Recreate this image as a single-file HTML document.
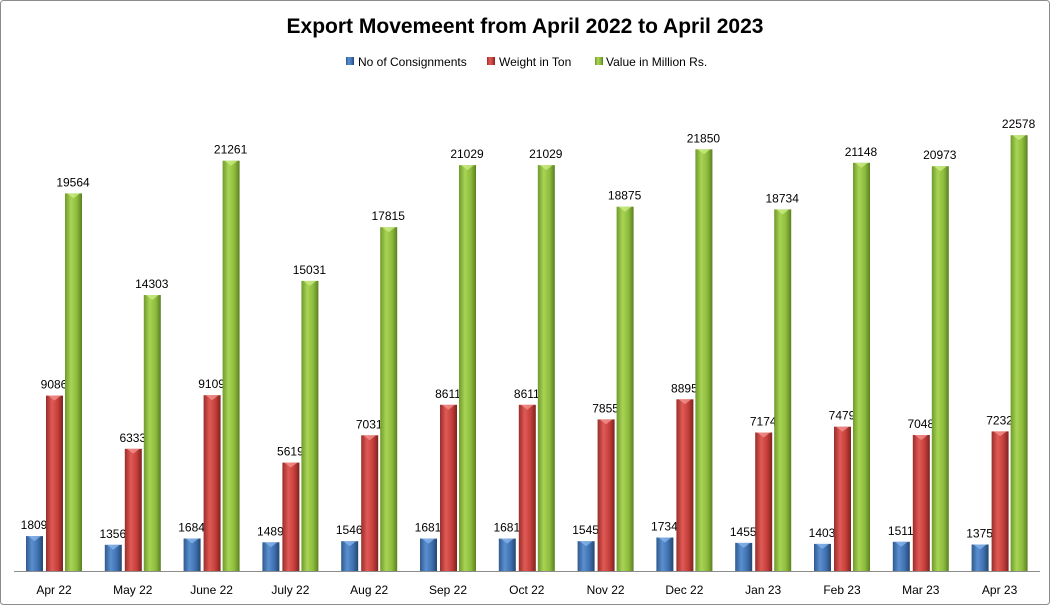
<!DOCTYPE html>
<html><head><meta charset="utf-8"><style>
body{margin:0;background:#fff;}
svg{display:block;font-family:"Liberation Sans",sans-serif;}
</style></head><body>
<svg id="s" width="1050" height="605" viewBox="0 0 1050 605">
<defs>
<linearGradient id="gb" x1="0" x2="1"><stop offset="0" stop-color="#2e5a8e"/><stop offset="0.35" stop-color="#5b8fd0"/><stop offset="0.7" stop-color="#3f71b0"/><stop offset="1" stop-color="#24466f"/></linearGradient>
<linearGradient id="gr" x1="0" x2="1"><stop offset="0" stop-color="#9a2d2a"/><stop offset="0.35" stop-color="#e05a56"/><stop offset="0.7" stop-color="#c43e3a"/><stop offset="1" stop-color="#7e2220"/></linearGradient>
<linearGradient id="gg" x1="0" x2="1"><stop offset="0" stop-color="#6f9a2c"/><stop offset="0.35" stop-color="#a8d455"/><stop offset="0.7" stop-color="#8dbb3c"/><stop offset="1" stop-color="#5a7f22"/></linearGradient>
</defs>
<rect x="0.5" y="0.5" width="1049" height="604" rx="3" fill="#fff" stroke="#8c8c8c"/>
<text x="525" y="33" text-anchor="middle" font-size="21" font-weight="bold" fill="#000">Export Movemeent from April 2022 to April 2023</text>
<rect x="346" y="57" width="8" height="8" fill="url(#gb)"/><text x="358" y="66" font-size="12">No of Consignments</text>
<rect x="487" y="57" width="8" height="8" fill="url(#gr)"/><text x="499" y="66" font-size="12">Weight in Ton</text>
<rect x="595" y="57" width="8" height="8" fill="url(#gg)"/><text x="606" y="66" font-size="12">Value in Million Rs.</text>
<line x1="14" y1="571.5" x2="1040" y2="571.5" stroke="#8c8c8c"/>
<g id="bars"></g>
</svg>
<script>
var L=["Apr 22","May 22","June 22","July 22","Aug 22","Sep 22","Oct 22","Nov 22","Dec 22","Jan 23","Feb 23","Mar 23","Apr 23"];
var B=[1809,1356,1684,1489,1546,1681,1681,1545,1734,1455,1403,1511,1375];
var R=[9086,6333,9109,5619,7031,8611,8611,7855,8895,7174,7479,7048,7232];
var G=[19564,14303,21261,15031,17815,21029,21029,18875,21850,18734,21148,20973,22578];
var k=0.0193,base=571,h='';
function bar(x,v,g,cap){var t=base-v*k;
h+='<rect x="'+x+'" y="'+t.toFixed(1)+'" width="17" height="'+(v*k).toFixed(1)+'" fill="url(#'+g+')"/>';
h+='<polygon points="'+(x+2)+','+t.toFixed(1)+' '+(x+15)+','+t.toFixed(1)+' '+(x+8.5)+','+(t+5).toFixed(1)+'" fill="'+cap+'" opacity="0.7"/>';
h+='<text x="'+(x+8)+'" y="'+(t-7).toFixed(1)+'" text-anchor="middle" font-size="12">'+v+'</text>';}
for(var i=0;i<13;i++){var c=54+78.8*i;
bar(c-28,B[i],'gb','#8fbaf0');bar(c-8,R[i],'gr','#f59a96');bar(c+11,G[i],'gg','#d2f08c');
h+='<text x="'+c+'" y="594" text-anchor="middle" font-size="12">'+L[i]+'</text>';}
document.getElementById('bars').innerHTML=h;
</script>
</body></html>
